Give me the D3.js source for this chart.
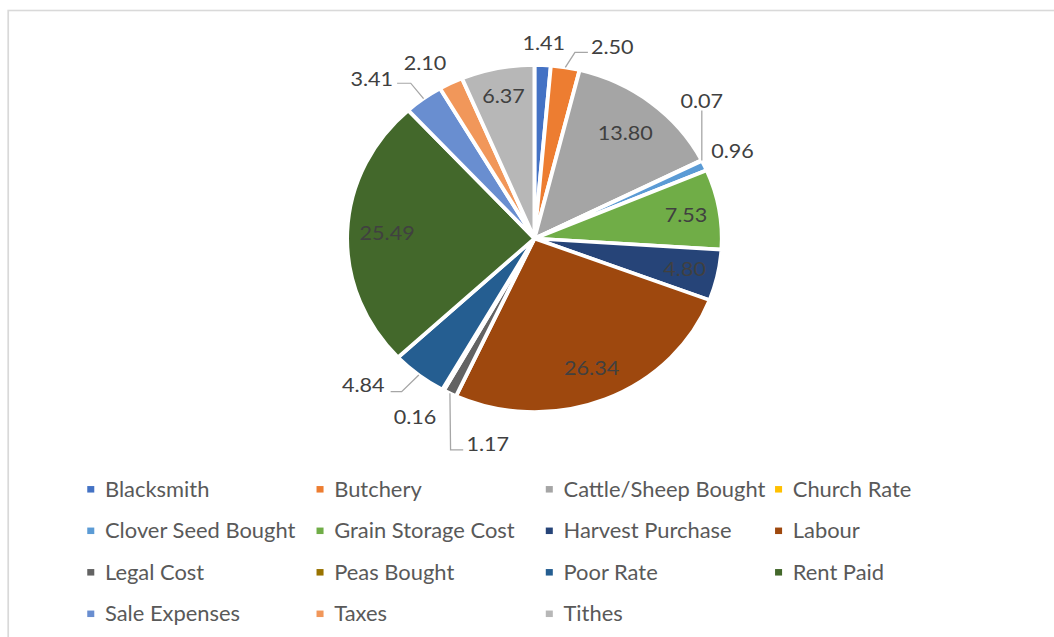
<!DOCTYPE html>
<html>
<head>
<meta charset="utf-8">
<script src="https://cdn.jsdelivr.net/npm/d3@7"></script>
<style>
  html, body { margin: 0; padding: 0; background: #fff; overflow: hidden; }
  svg { display: block; }
</style>
</head>
<body>
<svg id="chart"></svg>
<script>
// Farm expenditure shares (per cent)
const categories = [
  "Blacksmith", "Butchery", "Cattle/Sheep Bought", "Church Rate",
  "Clover Seed Bought", "Grain Storage Cost", "Harvest Purchase", "Labour",
  "Legal Cost", "Peas Bought", "Poor Rate", "Rent Paid",
  "Sale Expenses", "Taxes", "Tithes"
];
const values = [1.41, 2.50, 13.80, 0.07, 0.96, 7.53, 4.80, 26.34, 1.17, 0.16, 4.84, 25.49, 3.41, 2.10, 6.37];
const colors = [
  "#4472C4", "#ED7D31", "#A5A5A5", "#FFC000",
  "#5B9BD5", "#70AD47", "#264478", "#9E480E",
  "#636363", "#997300", "#255E91", "#43682B",
  "#698ED0", "#F1975A", "#B7B7B7"
];

// Slices whose value sits inside the pie, with the label's radial position (fraction of radius)
const insideLayout = {
  "Cattle/Sheep Bought": 0.778,
  "Grain Storage Cost":  0.821,
  "Harvest Purchase":    0.820,
  "Labour":              0.807,
  "Rent Paid":           0.787,
  "Tithes":              0.839
};

// Outside labels: text offset from the slice's outer mid point, plus optional leader elbow points
const outsideLayout = {
  "Blacksmith":         { text: [1, -22] },
  "Butchery":           { text: [43.5, -21], leader: [[8.9, -15], [20.9, -15]] },
  "Church Rate":        { text: [0, -60],    leader: [[0, -50]] },
  "Clover Seed Bought": { text: [26, -15] },
  "Legal Cost":         { text: [35, 50],    leader: [[0.6, 56.6], [12.3, 56.6]] },
  "Peas Bought":        { text: [-26, 27] },
  "Poor Rate":          { text: [-51.5, 10], leader: [[-15.9, 16.6], [-26.1, 16.6]] },
  "Sale Expenses":      { text: [-48, -20],  leader: [[-11.9, -15.4], [-24.5, -15.4]] },
  "Taxes":              { text: [-24, -20.5] }
};

// Drawing units are horizontally stretched to fill the page width
const pageW = 1054, pageH = 637;
const W = 976, H = 637;
const cx = 494.9, cy = 238.5, R = 173.5;
const fontFamily = "Lato, 'Open Sans', sans-serif";
const fmt = d3.format(".2f");

const svg = d3.select("#chart")
  .attr("width", pageW).attr("height", pageH)
  .attr("viewBox", `0 0 ${W} ${H}`)
  .attr("preserveAspectRatio", "none");

// chart area frame
svg.append("rect")
  .attr("x", 7.6).attr("y", 10.5)
  .attr("width", W + 40).attr("height", H + 40)
  .attr("fill", "#fff")
  .attr("stroke", "#d9d9d9").attr("stroke-width", 1.6);

const data = categories.map((c, i) => ({ name: c, value: values[i], color: colors[i] }));

const pie = d3.pie().sort(null).value(d => d.value).startAngle(0).endAngle(2 * Math.PI);
const arcs = pie(data);
const arc = d3.arc().innerRadius(0).outerRadius(R);

const g = svg.append("g").attr("transform", `translate(${cx},${cy})`);

g.selectAll("path.slice")
  .data(arcs)
  .join("path")
  .attr("class", "slice")
  .attr("d", arc)
  .attr("fill", d => d.data.color)
  .attr("stroke", "#fff")
  .attr("stroke-width", 3.6)
  .attr("stroke-linejoin", "round");

// inside value labels
const insidePos = d => {
  const r = R * insideLayout[d.data.name];
  return d3.arc().innerRadius(r).outerRadius(r).centroid(d);
};

g.selectAll("text.inside")
  .data(arcs.filter(d => d.data.name in insideLayout))
  .join("text")
  .attr("class", "inside")
  .attr("x", d => insidePos(d)[0])
  .attr("y", d => insidePos(d)[1])
  .attr("dy", "0.36em")
  .attr("text-anchor", "middle")
  .attr("font-family", fontFamily)
  .attr("font-size", 20)
  .attr("fill", "#404040")
  .text(d => fmt(d.data.value));

// outside value labels with leader lines
const outside = arcs.filter(d => outsideLayout[d.data.name]);
const edgePoint = d => {
  const a = (d.startAngle + d.endAngle) / 2;
  return [R * Math.sin(a), -R * Math.cos(a)];
};

outside.forEach(d => {
  const lay = outsideLayout[d.data.name];
  const p = edgePoint(d);
  if (lay.leader) {
    const pts = [p].concat(lay.leader.map(o => [p[0] + o[0], p[1] + o[1]]));
    g.append("path")
      .attr("d", d3.line()(pts))
      .attr("fill", "none")
      .attr("stroke", "#a6a6a6")
      .attr("stroke-width", 1.2);
  }
  g.append("text")
    .attr("x", p[0] + lay.text[0])
    .attr("y", p[1] + lay.text[1])
    .attr("dy", "0.36em")
    .attr("text-anchor", "middle")
    .attr("font-family", fontFamily)
    .attr("font-size", 20)
    .attr("fill", "#404040")
    .text(fmt(d.data.value));
});

// legend: four columns, filled row by row
const legendCols = 4;
const legendX0 = 80.8, legendColW = 212.3;
const legendY0 = 489.3, legendRowH = 41.5;
const sw = 6.5;

const legend = svg.append("g").selectAll("g")
  .data(data)
  .join("g")
  .attr("transform", (d, i) => `translate(${legendX0 + (i % legendCols) * legendColW},${legendY0 + Math.floor(i / legendCols) * legendRowH})`);

legend.append("rect")
  .attr("x", 0).attr("y", -sw / 2)
  .attr("width", sw).attr("height", sw)
  .attr("fill", d => d.color);

legend.append("text")
  .attr("x", 16.4)
  .attr("y", 0)
  .attr("dy", "0.36em")
  .attr("font-family", fontFamily)
  .attr("font-size", 20.3)
  .attr("fill", "#595959")
  .text(d => d.name);
</script>
</body>
</html>
